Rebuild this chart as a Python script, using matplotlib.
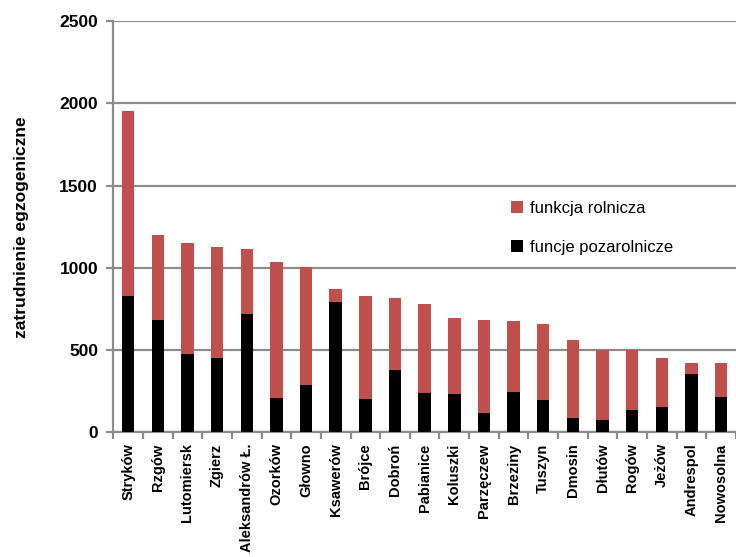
import matplotlib.pyplot as plt
import numpy as np

towns = [
    "Stryków", "Rzgów", "Lutomiersk", "Zgierz", "Aleksandrów Ł.", "Ozorków",
    "Głowno", "Ksawerów", "Brójce", "Dobroń", "Pabianice", "Koluszki",
    "Parzęczew", "Brzeziny", "Tuszyn", "Dmosin", "Dłutów", "Rogów", "Jeżów",
    "Andrespol", "Nowosolna",
]
# black part of each bar
pozarolnicze = [829, 685, 474, 452, 720, 211, 288, 791, 205, 379, 239, 233,
                118, 245, 193, 87, 75, 134, 152, 357, 217]
# total bar height
razem = [1953, 1198, 1152, 1129, 1115, 1034, 1004, 870, 829, 819, 779, 695,
         683, 679, 661, 562, 501, 501, 450, 420, 420]
rolnicza = [t - p for t, p in zip(razem, pozarolnicze)]

RED = "#C0504D"
GRID = "#8c8c8c"

plt.rcParams["font.family"] = ["Liberation Sans", "DejaVu Sans"]

fig = plt.figure(figsize=(7.36, 5.57), dpi=100)
ax = fig.add_axes([0.154, 0.224, 0.846, 0.738])

x = np.arange(len(towns))
ax.bar(x, pozarolnicze, width=0.42, color="black", zorder=3,
       label="funcje pozarolnicze")
ax.bar(x, rolnicza, width=0.42, bottom=pozarolnicze, color=RED, zorder=3,
       label="funkcja rolnicza")

ax.set_ylim(0, 2500)
ax.set_xlim(-0.5, len(towns) - 0.5)
ax.set_yticks(range(0, 2501, 500))
ax.yaxis.grid(True, color=GRID, linewidth=1.6, zorder=0)

for side in ["top", "right"]:
    ax.spines[side].set_visible(False)
for side in ["left", "bottom"]:
    ax.spines[side].set_color(GRID)
    ax.spines[side].set_linewidth(1.6)

ax.set_xticks(x)
ax.set_xticklabels(towns, rotation=90, fontsize=10.5, fontweight="bold")
ax.tick_params(axis="x", length=0, pad=8)
ax.set_xticks(np.arange(-0.5, len(towns)), minor=True)
ax.tick_params(axis="x", which="minor", length=5, color=GRID, width=1.6)
ax.tick_params(axis="y", length=5, color=GRID, width=1.6, labelsize=12.5,
               pad=6)
for lab in ax.get_yticklabels():
    lab.set_fontweight("bold")

ax.set_ylabel("zatrudnienie egzogeniczne", fontsize=12.5, fontweight="bold",
              labelpad=22)

handles, labels = ax.get_legend_handles_labels()
ax.legend(handles[::-1], labels[::-1], loc="upper left",
          bbox_to_anchor=(0.615, 0.6), frameon=False, fontsize=12,
          handlelength=0.7, handleheight=0.7, handletextpad=0.4,
          labelspacing=1.45)

fig.savefig("out.png", dpi=100)
